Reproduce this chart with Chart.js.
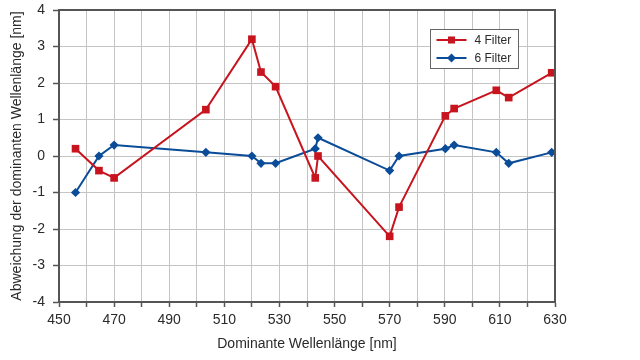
<!DOCTYPE html>
<html>
<head>
<meta charset="utf-8">
<script src="https://cdn.jsdelivr.net/npm/chart.js@4/dist/chart.umd.min.js"></script>
<style>
html,body{margin:0;padding:0;background:#fff;}
#wrap{width:640px;height:360px;position:relative;}
</style>
</head>
<body>
<div id="wrap"><canvas id="c" width="640" height="360"></canvas></div>
<script>
// Data
const wavelengths = [456, 464.5, 470, 503.3, 520, 523.3, 528.6, 543, 544, 570, 573.4, 590.2, 593.4, 608.7, 613.2, 628.8];
const filter4 = [0.2, -0.4, -0.6, 1.27, 3.2, 2.3, 1.9, -0.6, 0.0, -2.2, -1.4, 1.1, 1.3, 1.8, 1.6, 2.28];
const filter6 = [-1.0, 0.0, 0.3, 0.1, 0.0, -0.2, -0.2, 0.2, 0.5, -0.4, 0.0, 0.2, 0.3, 0.1, -0.2, 0.1];
const seriesLabels = ['4 Filter', '6 Filter'];
const xTitle = 'Dominante Wellenlänge [nm]';
const yTitle = 'Abweichung der dominanten Wellenlänge [nm]';
const xMin = 450, xMax = 630, xStep = 10, xLabelStep = 20;
const yMin = -4, yMax = 4, yStep = 1;

const RED = '#c8141e';
const BLUE = '#0a4c98';
const AXIS = '#555555';
const GRID = '#c4c4c4';
const TEXT = '#2a2a2a';
const FONT = "'Liberation Sans', Arial, Helvetica, sans-serif";

const toPts = ys => wavelengths.map((x, i) => ({x: x, y: ys[i]}));

const framePlugin = {
  id: 'frame',
  afterDatasetsDraw(chart) {
    const {ctx, chartArea: a} = chart;
    ctx.save();
    ctx.strokeStyle = AXIS;
    ctx.lineWidth = 2;
    ctx.beginPath();
    ctx.moveTo(a.left, a.top);
    ctx.lineTo(a.right, a.top);
    ctx.lineTo(a.right, a.bottom);
    ctx.stroke();
    ctx.restore();
  },
  afterDraw(chart) {
    // legend box with line + marker samples
    const {ctx, chartArea: a} = chart;
    const bx = a.left + 371.5, by = a.top + 19.5, bw = 88, bh = 39;
    ctx.save();
    ctx.fillStyle = '#fff';
    ctx.fillRect(bx, by, bw, bh);
    ctx.strokeStyle = '#666';
    ctx.lineWidth = 1;
    ctx.strokeRect(bx, by, bw, bh);
    chart.data.datasets.forEach((ds, i) => {
      const y = by + 10.5 + i * 18;
      ctx.strokeStyle = ds.borderColor;
      ctx.lineWidth = 2;
      ctx.beginPath();
      ctx.moveTo(bx + 6, y);
      ctx.lineTo(bx + 36, y);
      ctx.stroke();
      ctx.fillStyle = ds.backgroundColor;
      const cx = bx + 21;
      if (ds.pointStyle === 'rect') {
        ctx.fillRect(cx - 3.5, y - 3.5, 7, 7);
      } else {
        ctx.beginPath();
        ctx.moveTo(cx, y - 4.5);
        ctx.lineTo(cx + 4.5, y);
        ctx.lineTo(cx, y + 4.5);
        ctx.lineTo(cx - 4.5, y);
        ctx.closePath();
        ctx.fill();
      }
      ctx.fillStyle = TEXT;
      ctx.font = '12px ' + FONT;
      ctx.textBaseline = 'middle';
      ctx.textAlign = 'left';
      ctx.fillText(ds.label, bx + 44, y + 0.5);
    });
    ctx.restore();
  }
};

new Chart(document.getElementById('c'), {
  type: 'line',
  data: {
    datasets: [
      {
        label: seriesLabels[0],
        data: toPts(filter4),
        borderColor: RED,
        backgroundColor: RED,
        borderWidth: 2,
        pointStyle: 'rect',
        pointRadius: 5.4,
        pointBorderWidth: 0,
        tension: 0,
        fill: false
      },
      {
        label: seriesLabels[1],
        data: toPts(filter6),
        borderColor: BLUE,
        backgroundColor: BLUE,
        borderWidth: 2,
        pointStyle: 'rectRot',
        pointRadius: 4.6,
        pointBorderWidth: 0,
        tension: 0,
        fill: false
      }
    ]
  },
  options: {
    responsive: false,
    animation: false,
    devicePixelRatio: 1,
    layout: {padding: {left: 0, right: 85, top: 10, bottom: 0}},
    plugins: {
      legend: {display: false},
      tooltip: {enabled: false}
    },
    scales: {
      x: {
        type: 'linear',
        min: xMin, max: xMax,
        afterFit(scale) { scale.height = 58; scale.paddingLeft = 0; scale.paddingRight = 0; },
        border: {display: true, color: AXIS, width: 2},
        grid: {color: GRID, lineWidth: 1, tickLength: 5, tickColor: AXIS, tickWidth: 1.5},
        ticks: {
          stepSize: xStep,
          autoSkip: false,
          maxRotation: 0,
          padding: 5,
          color: TEXT,
          font: {family: FONT, size: 14},
          callback: v => ((v - xMin) % xLabelStep === 0 ? String(v) : '')
        },
        title: {
          display: true,
          text: xTitle,
          color: TEXT,
          font: {family: FONT, size: 14},
          padding: {top: 7, bottom: 7}
        }
      },
      y: {
        min: yMin, max: yMax,
        afterFit(scale) { scale.width = 59; scale.paddingTop = 0; scale.paddingBottom = 0; },
        border: {display: true, color: AXIS, width: 2},
        grid: {color: GRID, lineWidth: 1, tickLength: 6, tickColor: AXIS, tickWidth: 1.5},
        ticks: {
          stepSize: yStep,
          padding: 8,
          color: TEXT,
          font: {family: FONT, size: 14}
        },
        title: {
          display: true,
          text: yTitle,
          color: TEXT,
          font: {family: FONT, size: 14},
          padding: {top: 9, bottom: 9}
        }
      }
    }
  },
  plugins: [framePlugin]
});
</script>
</body>
</html>
